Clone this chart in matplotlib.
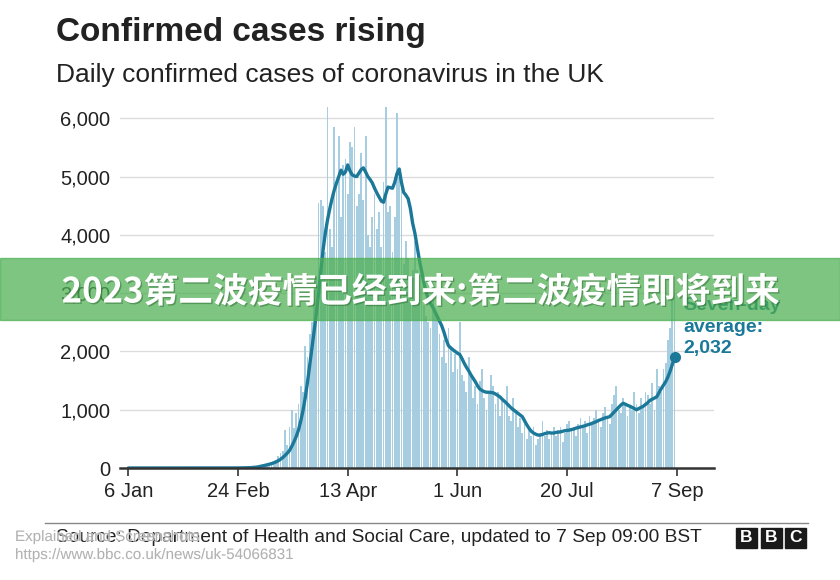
import numpy as np
import pandas as pd
import matplotlib
matplotlib.use("Agg")
import matplotlib.pyplot as plt
import matplotlib.patheffects as pe
from matplotlib.patches import Rectangle

# daily confirmed cases, one value per day from 6 Jan
daily_cases = [0] * 25 + [
    2, 0, 0, 0, 0, 0, 0, 0, 0, 0, 0, 1, 0, 0, 0,
    0, 0, 1, 0, 0, 0, 4, 0, 0, 0, 1, 0, 3, 3, 12,
    4, 11, 34, 29, 48, 46, 43, 67, 48, 61, 74, 134, 208, 250, 300,
    650, 400, 700, 1000, 680, 950, 1100, 1400, 1300, 2100, 1900, 2300, 2500, 2900, 3300,
    4550, 4600, 4500, 3700, 6190, 4100, 3800, 5850, 4900, 5700, 4300, 5200, 5300, 4700, 5600,
    5500, 5850, 4500, 4700, 5400, 4600, 5700, 4000, 3800, 4300, 4700, 4100, 4400, 3800, 4900,
    6190, 4400, 4500, 3700, 4300, 6090, 5000, 4800, 3500, 3900, 3600, 3300, 3400, 3900, 3400,
    2900, 3100, 2800, 2600, 2500, 2400, 2950, 2700, 2600, 2300, 1900, 2200, 1800, 2400, 2100,
    1650, 1950, 1700, 2500, 1600, 1500, 1300, 1900, 1600, 1200, 1400, 1100, 1500, 1700, 1200,
    1000, 1300, 1600, 1400, 1100, 1300, 900, 1200, 1100, 1400, 900, 800, 1200, 1000, 700,
    850, 600, 750, 500, 650, 550, 700, 400, 500, 600, 800, 550, 650, 500, 600,
    700, 550, 650, 700, 450, 600, 750, 800, 650, 700, 550, 750, 850, 700, 800,
    600, 900, 750, 850, 1000, 800, 700, 950, 1050, 850, 750, 1100, 1250, 1400, 1000,
    950, 1200, 1100, 900, 1050, 1000, 1300, 1100, 950, 1200, 1050, 1300, 1250, 1100, 1450,
    1000, 1700, 1400, 1300, 1700, 1800, 2200, 2400, 2900, 3000,
]

# seven-day average, one value per day from 6 Jan
avg_cases = [0] * 40 + [
    1, 1, 1, 1, 1, 1, 1, 1, 1, 2, 2, 2, 3, 4, 5,
    7, 10, 14, 20, 28, 35, 45, 55, 65, 75, 90, 105, 125, 150, 180,
    215, 255, 300, 370, 450, 540, 650, 800, 980, 1200, 1460, 1750, 2050, 2350, 2650,
    3000, 3380, 3740, 4030, 4260, 4450, 4620, 4770, 4890, 5000, 5110, 5040, 5080, 5200, 5100,
    5030, 5010, 5000, 5060, 5120, 5150, 5080, 5000, 4950, 4890, 4800, 4720, 4650, 4580, 4560,
    4700, 4820, 4810, 4800, 4900, 5050, 5130, 4900, 4730, 4680, 4620, 4450, 4200, 4030, 3800,
    3570, 3380, 3180, 3020, 2900, 2820, 2760, 2680, 2600, 2520, 2440, 2330, 2200, 2100, 2060,
    2030, 2000, 1970, 1950, 1880, 1800, 1730, 1670, 1600, 1540, 1480, 1410, 1355, 1330, 1310,
    1300, 1300, 1295, 1290, 1270, 1245, 1220, 1180, 1145, 1110, 1070, 1030, 1000, 970, 940,
    910, 880, 810, 740, 680, 630, 600, 580, 565, 565, 575, 590, 600, 605, 600,
    600, 610, 615, 620, 630, 640, 645, 650, 660, 670, 685, 695, 705, 715, 725,
    740, 750, 765, 780, 795, 815, 830, 845, 860, 870, 880, 920, 960, 1000, 1040,
    1080, 1110, 1095, 1075, 1060, 1040, 1020, 1000, 1020, 1040, 1060, 1090, 1120, 1160, 1180,
    1200, 1220, 1290, 1360, 1420, 1480, 1560, 1660, 1780, 1900, 2032,
]

tick_dates = ["2020-01-06", "2020-02-24", "2020-04-13", "2020-06-01", "2020-07-20", "2020-09-07"]
tick_labels = ["6 Jan", "24 Feb", "13 Apr", "1 Jun", "20 Jul", "7 Sep"]
y_ticks = [0, 1000, 2000, 3000, 4000, 5000, 6000]

start = pd.Timestamp("2020-01-06")
n = min(len(daily_cases), len(avg_cases))
days = np.arange(n)
daily = np.array(daily_cases[:n])
avg = np.array(avg_cases[:n])
tick_pos = [(pd.Timestamp(d) - start).days for d in tick_dates]

BAR = "#a6cde0"
LINE = "#1b7899"
TXT = "#222222"
plt.rcParams["font.family"] = ["Liberation Sans", "DejaVu Sans"]

fig = plt.figure(figsize=(8.4, 5.8), dpi=100)
ax = fig.add_axes([120 / 840, 1 - 468 / 580, (714 - 120) / 840, (468 - 95) / 580])

ax.bar(days, daily, width=0.8, color=BAR, linewidth=0, zorder=2)
ax.plot(days, avg, color=LINE, lw=2.4, solid_capstyle="round", zorder=3)
ax.plot(days[-1], avg[-1], "o", color=LINE, ms=7, zorder=4)

ax.set_xlim(-3.7, 261.6)
ax.set_ylim(0, 6400)
ax.set_yticks(y_ticks)
ax.set_yticklabels([f"{v:,}" for v in y_ticks])
ax.set_xticks(tick_pos)
ax.set_xticklabels(tick_labels)
for v in y_ticks[1:]:
    ax.axhline(v, color="#dcdcdc", lw=1, zorder=1)

for s in ["top", "right", "left"]:
    ax.spines[s].set_visible(False)
ax.spines["bottom"].set_color("#333333")
ax.spines["bottom"].set_linewidth(1.8)
ax.spines["bottom"].set_zorder(5)
ax.tick_params(axis="y", length=0, pad=7, labelsize=14.5, labelcolor=TXT)
ax.tick_params(axis="x", length=6, width=1.2, color="#333333", pad=4, labelsize=14.5, labelcolor=TXT)

# seven-day average label
for txt, yy in [("Seven-day", 305), ("average:", 327), ("2,032", 349)]:
    fig.text(683 / 840, 1 - yy / 580, txt, color=LINE, fontsize=14, fontweight="bold", va="center")

fig.text(56 / 840, 1 - 33 / 580, "Confirmed cases rising", fontsize=24, fontweight="bold", color=TXT, va="center")
fig.text(56 / 840, 1 - 75 / 580, "Daily confirmed cases of coronavirus in the UK", fontsize=19, color=TXT, va="center")

# footer
fig.add_artist(plt.Line2D([45 / 840, 808 / 840], [1 - 523 / 580] * 2, color="#888888", lw=1))
fig.text(56 / 840, 1 - 538 / 580, "Source: Department of Health and Social Care, updated to 7 Sep 09:00 BST",
         fontsize=13.8, color=TXT, va="center")
for i, ch in enumerate("BBC"):
    x0 = 736 + i * 24.5
    fig.add_artist(Rectangle((x0 / 840, 1 - 548 / 580), 21 / 840, 20 / 580, color="#1a1a1a"))
    fig.text((x0 + 10.5) / 840, 1 - 538 / 580, ch, color="white", fontsize=12.5,
             fontweight="bold", ha="center", va="center")

# overlay banner
fig.add_artist(Rectangle((0, 1 - 320 / 580), 1, 62 / 580, color="#4caf50", alpha=0.72, zorder=10))
fig.text(421 / 840, 1 - 292 / 580, "2023第二波疫情已经到来:第二波疫情即将到来",
         family=["Noto Sans CJK SC", "DejaVu Sans"], fontsize=25, fontweight="heavy",
         color="white", ha="center", va="center", zorder=11,
         path_effects=[pe.withSimplePatchShadow(offset=(1, -1), shadow_rgbFace="#2e6b33", alpha=0.5)])

# watermark
wm = dict(fontsize=10.9, color="#a8a8a8", alpha=0.85, zorder=12,
          path_effects=[pe.withStroke(linewidth=1.2, foreground="white", alpha=0.6)])
fig.text(15 / 840, 1 - 537 / 580, "Explained and Screenshots", va="center", **wm)
fig.text(15 / 840, 1 - 555 / 580, "https://www.bbc.co.uk/news/uk-54066831", va="center", **wm)

fig.savefig("out.png", dpi=100)
